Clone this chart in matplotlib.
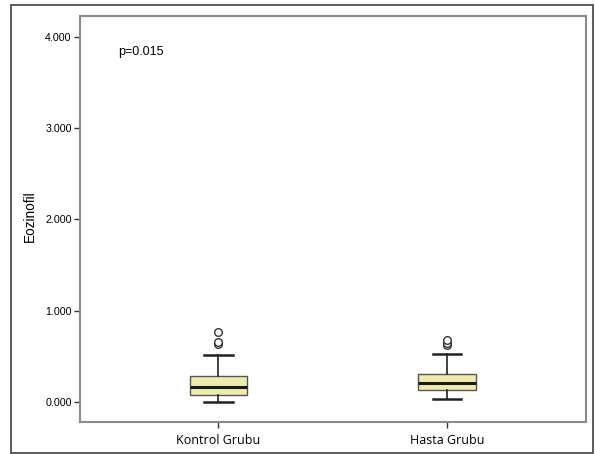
import matplotlib
matplotlib.use("Agg")
import matplotlib.pyplot as plt
from matplotlib.patches import Rectangle

groups = ["Kontrol Grubu", "Hasta Grubu"]
whislo = [0.00, 0.03]
q1 = [0.077, 0.13]
med = [0.164, 0.21]
q3 = [0.285, 0.31]
whishi = [0.51, 0.52]
fliers = [[0.63, 0.66, 0.77], [0.62, 0.65, 0.68]]
yticks = [0.0, 1.0, 2.0, 3.0, 4.0]
ytick_labels = ["0.000", "1.000", "2.000", "3.000", "4.000"]
p_text = "p=0.015"
ylabel = "Eozinofil"

W, H = 595, 454
fig = plt.figure(figsize=(W / 100, H / 100), dpi=100)
fig.patch.set_facecolor("white")
fig.add_artist(Rectangle((11 / W, 1 - 453 / H), (593 - 11) / W, (453 - 5) / H,
                         transform=fig.transFigure, fill=False,
                         edgecolor="#404040", linewidth=1.2))
ax = fig.add_axes([80 / W, 1 - 422 / H, (586 - 80) / W, (422 - 16) / H])

stats = []
for i, g in enumerate(groups):
    stats.append(dict(label=g, whislo=whislo[i], q1=q1[i], med=med[i],
                      q3=q3[i], whishi=whishi[i], fliers=fliers[i]))

ax.bxp(stats, positions=[1, 2], widths=0.25, patch_artist=True,
       showfliers=True, capwidths=0.125,
       boxprops=dict(facecolor="#eeeab0", edgecolor="#555555", linewidth=1.0),
       medianprops=dict(color="#1a1a1a", linewidth=2.2),
       whiskerprops=dict(color="#222222", linewidth=1.2),
       capprops=dict(color="#222222", linewidth=1.8),
       flierprops=dict(marker="o", markerfacecolor="white",
                       markeredgecolor="#333333", markersize=5.5,
                       markeredgewidth=1.0))

ax.set_xlim(0.394, 2.608)
ax.set_ylim(-0.22, 4.23)
ax.set_yticks(yticks)
ax.set_yticklabels(ytick_labels, fontsize=7.7, family="Liberation Sans")
ax.set_xticks([1, 2])
ax.set_xticklabels(groups, fontsize=9, family="Open Sans")
ax.tick_params(axis="both", length=4, width=1, color="#333333", pad=2)
ax.tick_params(axis="x", pad=5)
for s in ax.spines.values():
    s.set_color("#8a8a8a")
    s.set_linewidth(1.5)
ax.set_ylabel(ylabel, fontsize=9.8, family="Liberation Sans")
ax.yaxis.set_label_coords((37 - 80) / (586 - 80), (422 - 216) / (422 - 16))
ax.text(0.56, 3.84, p_text, fontsize=9, family="Liberation Sans",
        ha="left", va="center")

fig.savefig("out.png", dpi=100, facecolor="white")
